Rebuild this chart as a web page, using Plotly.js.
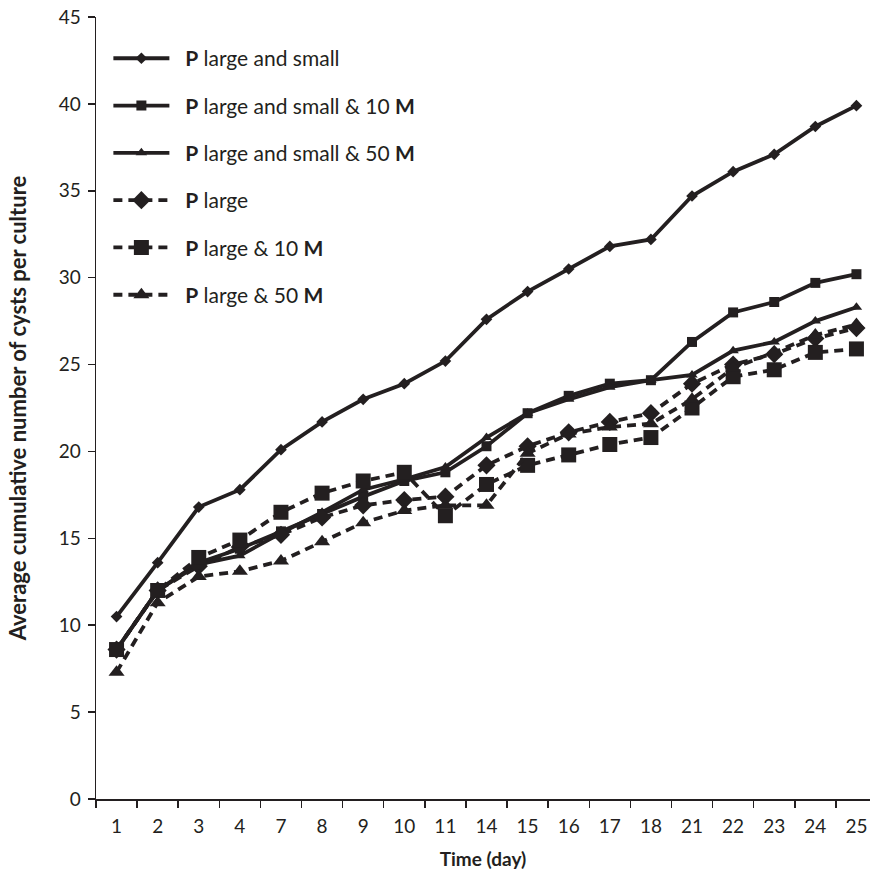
<!DOCTYPE html>
<html>
<head>
<meta charset="utf-8">
<script src="https://cdn.plot.ly/plotly-3.0.1.min.js"></script>
<style>html,body{margin:0;padding:0;background:#fff;}#chart{width:870px;height:875px;}</style>
</head>
<body>
<div id="chart"></div>
<script>
const days = ["1","2","3","4","7","8","9","10","11","14","15","16","17","18","21","22","23","24","25"];

const seriesNames = [
  "<b>P</b> large and small",
  "<b>P</b> large and small & 10 <b>M</b>",
  "<b>P</b> large and small & 50 <b>M</b>",
  "<b>P</b> large",
  "<b>P</b> large & 10 <b>M</b>",
  "<b>P</b> large & 50 <b>M</b>"
];

const pLargeSmall      = [10.5, 13.6, 16.8, 17.8, 20.1, 21.7, 23.0, 23.9, 25.2, 27.6, 29.2, 30.5, 31.8, 32.2, 34.7, 36.1, 37.1, 38.7, 39.9];
const pLargeSmall10M   = [8.6, 12.0, 13.6, 14.4, 15.4, 16.4, 17.4, 18.3, 18.8, 20.3, 22.2, 23.2, 23.9, 24.1, 26.3, 28.0, 28.6, 29.7, 30.2];
const pLargeSmall50M   = [8.6, 12.0, 13.5, 14.0, 15.3, 16.5, 17.8, 18.4, 19.1, 20.8, 22.2, 23.0, 23.7, 24.1, 24.4, 25.8, 26.3, 27.5, 28.3];
const pLarge           = [8.6, 12.0, 13.4, 14.5, 15.2, 16.2, 16.9, 17.2, 17.4, 19.2, 20.3, 21.1, 21.7, 22.2, 23.9, 25.0, 25.6, 26.5, 27.1];
const pLarge10M        = [8.6, 12.0, 13.9, 14.9, 16.5, 17.6, 18.3, 18.8, 16.3, 18.1, 19.2, 19.8, 20.4, 20.8, 22.5, 24.3, 24.7, 25.7, 25.9];
const pLarge50M        = [7.3, 11.3, 12.8, 13.1, 13.7, 14.8, 15.9, 16.6, 16.9, 16.9, 19.9, 21.0, 21.4, 21.6, 23.0, 24.8, 25.7, 26.7, 27.3];

const C = "#231F20";
const values = [pLargeSmall, pLargeSmall10M, pLargeSmall50M, pLarge, pLarge10M, pLarge50M];
const symbols = ["diamond", "square", "triangle-up", "diamond", "square", "triangle-up"];
const sizes = [9, 10, 10, 14, 15, 14];
const dashes = ["solid", "solid", "solid", "9px,6px", "9px,6px", "9px,6px"];

const traces = values.map((v, i) => ({
  type: "scatter",
  mode: "lines+markers",
  x: days,
  y: v,
  name: "&nbsp;&nbsp;" + seriesNames[i],
  legendgroup: "g" + i,
  line: {color: C, width: 3.8, dash: dashes[i]},
  marker: {symbol: symbols[i], size: sizes[i], color: C},
  cliponaxis: false
}));

const layout = {
  width: 870,
  height: 875,
  margin: {l: 96, r: 0, t: 17, b: 76},
  paper_bgcolor: "#fff",
  plot_bgcolor: "#fff",
  font: {family: "Lato, 'Open Sans', sans-serif", color: C, size: 16},
  showlegend: true,
  legend: {
    x: 0.016, y: 0.973, xanchor: "left", yanchor: "top",
    bgcolor: "rgba(0,0,0,0)",
    font: {size: 21, color: C},
    tracegroupgap: 17,
    itemwidth: 56
  },
  xaxis: {
    type: "category",
    range: [-0.5, 18.33],
    showline: true, linecolor: C, linewidth: 1.5,
    ticks: "outside", ticklen: 7, tickcolor: C, tickwidth: 1.5,
    tickson: "boundaries",
    ticklabelstandoff: 10,
    showgrid: false, zeroline: false,
    tickfont: {size: 19},
    title: {text: "<b>Time (day)</b>", font: {size: 19}, standoff: 16}
  },
  yaxis: {
    range: [0, 45],
    dtick: 5,
    showline: true, linecolor: C, linewidth: 1.5,
    ticks: "outside", ticklen: 7, tickcolor: C, tickwidth: 1.5,
    ticklabelstandoff: 3,
    showgrid: false, zeroline: false,
    tickfont: {size: 19},
    title: {text: "<b>Average cumulative number of cysts per culture</b>", font: {size: 22}, standoff: 26}
  }
};

Plotly.newPlot("chart", traces, layout, {displayModeBar: false, staticPlot: true});
</script>
</body>
</html>
